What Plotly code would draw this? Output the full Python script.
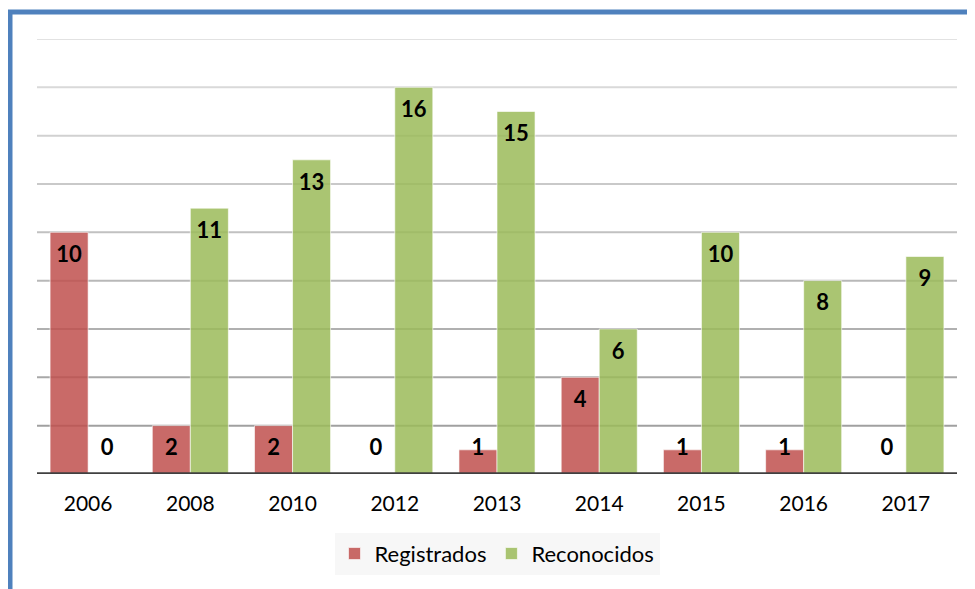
import plotly.graph_objects as go

years = ["2006", "2008", "2010", "2012", "2013", "2014", "2015", "2016", "2017"]
registrados = [10, 2, 2, 0, 1, 4, 1, 1, 0]
reconocidos = [0, 11, 13, 16, 15, 6, 10, 8, 9]
grid_values = [2, 4, 6, 8, 10, 12, 14, 16, 18]

x = list(range(len(years)))
half = 0.186

fig = go.Figure()
fig.add_trace(go.Bar(
    x=x, y=registrados, name="Registrados",
    marker=dict(color="rgba(192,80,77,0.85)", line=dict(color="rgba(255,255,255,0.6)", width=1)),
))
fig.add_trace(go.Bar(
    x=x, y=reconocidos, name="Reconocidos",
    marker=dict(color="rgba(155,187,89,0.85)", line=dict(color="rgba(255,255,255,0.6)", width=1)),
))

def label_y(v):
    return max(v - 1.0, 1.0)

label_font = dict(family="Lato", size=22, color="black", weight="bold")
fig.add_trace(go.Scatter(
    x=[i - half for i in x], y=[label_y(v) for v in registrados],
    text=[str(v) for v in registrados], mode="text", showlegend=False,
    textfont=label_font, hoverinfo="skip",
))
fig.add_trace(go.Scatter(
    x=[i + half for i in x], y=[label_y(v) for v in reconocidos],
    text=[str(v) for v in reconocidos], mode="text", showlegend=False,
    textfont=label_font, hoverinfo="skip",
))

shapes = []
n = len(grid_values)
for k, g in enumerate(grid_values):
    t = k / (n - 1)
    c = int(160 + (226 - 160) * t)
    shapes.append(dict(type="line", xref="paper", yref="y", x0=0, x1=1, y0=g, y1=g,
                       line=dict(color=f"rgb({c},{c},{c})", width=2), layer="below"))
# baseline
shapes.append(dict(type="line", xref="paper", yref="y", x0=0, x1=1, y0=0, y1=0,
                   line=dict(color="#404040", width=3.5), layer="above"))
# blue frame
shapes.append(dict(type="rect", xref="paper", yref="paper",
                   x0=(10 - 37) / 920, x1=1.2, y0=-0.6, y1=1 + 27 / 435,
                   line=dict(color="#4F81BD", width=5), layer="above"))

fig.update_layout(
    width=967, height=581,
    margin=dict(l=29, r=18, t=31, b=115),
    paper_bgcolor="white", plot_bgcolor="white",
    barmode="group", bargap=0.256, bargroupgap=0,
    shapes=shapes,
    font=dict(family="Lato", color="black"),
    legend=dict(orientation="h", x=0.5, xanchor="center", y=-0.135, yanchor="top",
                bgcolor="#f7f7f7", font=dict(family="Lato", size=22, color="black"),
                itemwidth=30, traceorder="normal"),
    xaxis=dict(range=[-0.5, 8.5], tickvals=x, ticktext=years, showgrid=False,
               zeroline=False, showline=False, ticks="outside", ticklen=11,
               tickcolor="rgba(0,0,0,0)", tickfont=dict(family="Lato", size=21, color="black")),
    yaxis=dict(range=[0, 18], showgrid=False, zeroline=False, showticklabels=False,
               showline=False),
)

fig.write_html("out.html")
